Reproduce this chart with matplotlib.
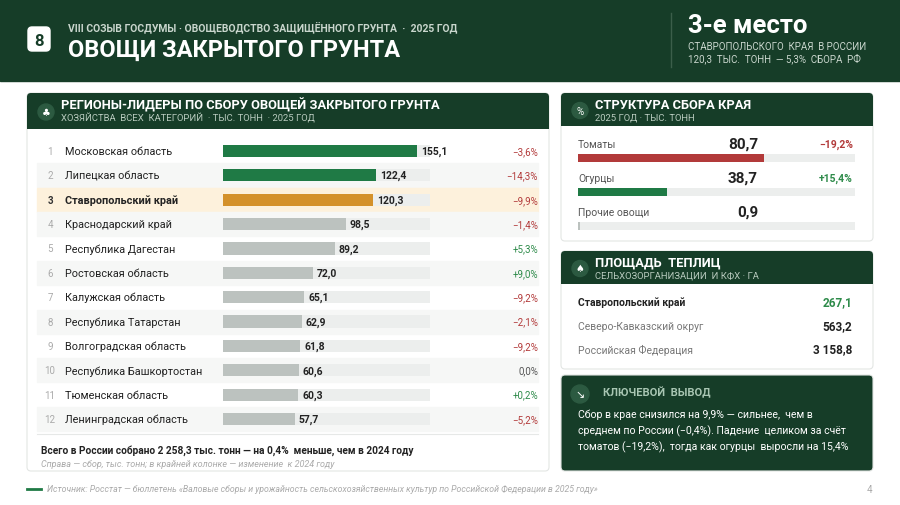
import matplotlib.pyplot as plt
from matplotlib.patches import FancyBboxPatch, Rectangle, Circle

plt.rcParams['font.family'] = ['Roboto', 'DejaVu Sans']

# data
regions = ['Московская область', 'Липецкая область', 'Ставропольский край',
           'Краснодарский край', 'Республика Дагестан', 'Ростовская область',
           'Калужская область', 'Республика Татарстан', 'Волгоградская область',
           'Республика Башкортостан', 'Тюменская область', 'Ленинградская область']
harvest = [155.1, 122.4, 120.3, 98.5, 89.2, 72.0, 65.1, 62.9, 61.8, 60.6, 60.3, 57.7]
change = [-3.6, -14.3, -9.9, -1.4, 5.3, 9.0, -9.2, -2.1, -9.2, 0.0, 0.2, -5.2]

crops = ['Томаты', 'Огурцы', 'Прочие овощи']
crop_vals = [80.7, 38.7, 0.9]
crop_change = [-19.2, 15.4, None]
crop_total = 120.3

area_names = ['Ставропольский край', 'Северо-Кавказский округ', 'Российская Федерация']
area_vals = ['267,1', '563,2', '3 158,8']

DARK = '#163d28'
GREEN = '#1f7a45'
GOLD = '#d4912a'
GREY = '#bcc2bf'
TRACK = '#eceeed'
RED = '#b23a3a'
POS = '#2e8b4a'

def fmt(v):
    return f'{v:.1f}'.replace('.', ',')

def pct(v):
    if v == 0:
        return '0,0%'
    s = '+' if v > 0 else '\u2212'
    return s + f'{abs(v):.1f}'.replace('.', ',') + '%'

fig = plt.figure(figsize=(9, 5.06), dpi=100)
bg = fig.add_axes([0, 0, 1, 1])
bg.set_xlim(0, 900)
bg.set_ylim(506, 0)
bg.axis('off')
bg.add_patch(Rectangle((0, 0), 900, 506, color='white', zorder=0))

# header band
bg.add_patch(Rectangle((0, 0), 900, 82, color=DARK))
bg.add_patch(FancyBboxPatch((28, 28), 22, 24, boxstyle='round,pad=0,rounding_size=4', color='white'))
bg.text(39, 41, '8', ha='center', va='center', fontsize=12, weight='bold', color=DARK)
bg.text(68, 27, 'VIII СОЗЫВ ГОСДУМЫ · ОВОЩЕВОДСТВО ЗАЩИЩЁННОГО ГРУНТА  ·  2025 ГОД',
        fontsize=7.5, color='#c9d6cd', va='center', weight='bold')
bg.text(68, 50, 'ОВОЩИ ЗАКРЫТОГО ГРУНТА', fontsize=17, color='white', va='center', weight='bold')
bg.plot([671, 671], [14, 68], color='#3b5e4a', lw=1)
bg.text(688, 26, '3-е место', fontsize=18.5, color='white', va='center', weight='bold')
bg.text(688, 47, 'СТАВРОПОЛЬСКОГО  КРАЯ  В РОССИИ', fontsize=7, color='#c9d6cd', va='center')
bg.text(688, 59, '120,3  ТЫС.  ТОНН  — 5,3%  СБОРА  РФ', fontsize=7, color='#c9d6cd', va='center')

def card(x, y, w, h, head_h=None, title='', sub='', icon='', dark=False):
    bg.add_patch(FancyBboxPatch((x, y), w, h, boxstyle='round,pad=0,rounding_size=4',
                                fc=DARK if dark else 'white', ec='#e3e6e4', lw=0.8))
    if head_h:
        bg.add_patch(FancyBboxPatch((x, y), w, head_h, boxstyle='round,pad=0,rounding_size=4',
                                    fc=DARK, ec='none'))
        bg.add_patch(Rectangle((x, y + head_h - 5), w, 5, fc=DARK, ec='none'))
        bg.add_patch(Circle((x + 19, y + head_h / 2 + 1), 8, color='#2c5a41'))
        bg.text(x + 19, y + head_h / 2 + 1, icon, ha='center', va='center', fontsize=7, color='white')
        bg.text(x + 34, y + 11, title, fontsize=9.3, weight='bold', color='white', va='center')
        bg.text(x + 34, y + 24, sub, fontsize=6.8, color='#b9cbbf', va='center')

# left card
card(27, 94, 522, 378, 36, 'РЕГИОНЫ-ЛИДЕРЫ ПО СБОРУ ОВОЩЕЙ ЗАКРЫТОГО ГРУНТА',
     'ХОЗЯЙСТВА  ВСЕХ  КАТЕГОРИЙ  · ТЫС. ТОНН  · 2025 ГОД', '♣')

row_y = [152 + i * 24.37 for i in range(len(regions))]
for i, y in enumerate(row_y):
    if i == 2:
        bg.add_patch(Rectangle((37, y - 12), 501, 24, color='#fdf1dc', zorder=1))
    elif i % 2 == 1:
        bg.add_patch(Rectangle((37, y - 12), 501, 24, color='#f6f7f6', zorder=1))

bar_ax = fig.add_axes([223 / 900, 1 - 432.3 / 506, 207 / 900, (432.3 - 139.7) / 506])
bar_ax.set_xlim(0, 165.5)
bar_ax.set_ylim(len(regions) - 0.5, -0.5)
bar_ax.axis('off')
pos = list(range(len(regions)))
colors = [GREEN, GREEN, GOLD] + [GREY] * 9
bar_ax.barh(pos, [165.5] * len(pos), height=0.5, color=TRACK)
bar_ax.barh(pos, harvest, height=0.5, color=colors)
for i, (v, c) in enumerate(zip(harvest, change)):
    bar_ax.text(v + 3, i, fmt(v), va='center', fontsize=7.5, weight='bold', color='#222222')
    y = row_y[i]
    bold = i == 2
    bg.text(50, y, str(i + 1), ha='center', va='center', fontsize=7,
            color='#333333' if bold else '#aaaaaa', weight='bold' if bold else 'normal', zorder=3)
    bg.text(65, y, regions[i], va='center', fontsize=7.8, color='#222222',
            weight='bold' if bold else 'normal', zorder=3)
    col = RED if c < 0 else (POS if c > 0 else '#555555')
    bg.text(538, y, pct(c), ha='right', va='center', fontsize=7, color=col, zorder=3)

bg.plot([37, 538], [435, 435], color='#e6e8e7', lw=0.8)
bg.text(41, 451, 'Всего в России собрано 2 258,3 тыс. тонн — на 0,4%  меньше, чем в 2024 году',
        fontsize=7.3, weight='bold', color='#222222', va='center')
bg.text(41, 465, 'Справа — сбор, тыс. тонн; в крайней колонке — изменение  к 2024 году',
        fontsize=6.5, style='italic', color='#aaaaaa', va='center')

# structure card
card(561, 94, 312, 148, 33, 'СТРУКТУРА СБОРА КРАЯ', '2025 ГОД · ТЫС. ТОНН', '%')
st_ax = fig.add_axes([578 / 900, 1 - 244 / 506, 277 / 900, (244 - 142) / 506])
st_ax.set_xlim(0, crop_total)
st_ax.set_ylim(2.5, -0.5)
st_ax.axis('off')
st_ax.barh(range(3), [crop_total] * 3, height=0.22, color=TRACK)
st_ax.barh(range(3), crop_vals, height=0.22, color=[RED, GREEN, GREY])
for i, (n, v, c) in enumerate(zip(crops, crop_vals, crop_change)):
    y = 145 + i * 34
    bg.text(578, y, n, fontsize=7.5, color='#555555', va='center')
    bg.text(758, y, fmt(v), fontsize=11, weight='bold', color='#222222', va='center', ha='right')
    if c is not None:
        bg.text(853, y, pct(c), fontsize=7.5, weight='bold', color=RED if c < 0 else POS,
                va='center', ha='right')

# greenhouse area
card(561, 252, 312, 118, 33, 'ПЛОЩАДЬ  ТЕПЛИЦ', 'СЕЛЬХОЗОРГАНИЗАЦИИ  И КФХ · ГА', '♠')
for i, (n, v) in enumerate(zip(area_names, area_vals)):
    y = 303 + i * 23.5
    bg.text(578, y, n, fontsize=7.5, va='center', color='#222222' if i == 0 else '#777777',
            weight='bold' if i == 0 else 'normal')
    bg.text(852, y, v, fontsize=8.5, va='center', ha='right', weight='bold',
            color=POS if i == 0 else '#222222')

# key conclusion
card(561, 376, 312, 96, dark=True)
bg.add_patch(Circle((580, 395), 9, color='#2c5a41'))
bg.text(580, 395, '↘', ha='center', va='center', fontsize=8, color='white')
bg.text(603, 393, 'КЛЮЧЕВОЙ  ВЫВОД', fontsize=8, weight='bold', color='#a9c6b3', va='center')
for i, line in enumerate(['Сбор в крае снизился на 9,9% — сильнее,  чем в',
                          'среднем по России (−0,4%). Падение  целиком за счёт',
                          'томатов (−19,2%),  тогда как огурцы  выросли на 15,4%']):
    bg.text(578, 415 + i * 16, line, fontsize=7.6, color='white', va='center')

# footer
bg.plot([27, 41], [490, 490], color=GREEN, lw=2)
bg.text(47, 490, 'Источник: Росстат — бюллетень «Валовые сборы и урожайность сельскохозяйственных культур по Российской Федерации в 2025 году»',
        fontsize=6.3, style='italic', color='#aaaaaa', va='center')
bg.text(872, 490, '4', fontsize=7, color='#aaaaaa', va='center', ha='right')

fig.savefig('out.png', dpi=100)
